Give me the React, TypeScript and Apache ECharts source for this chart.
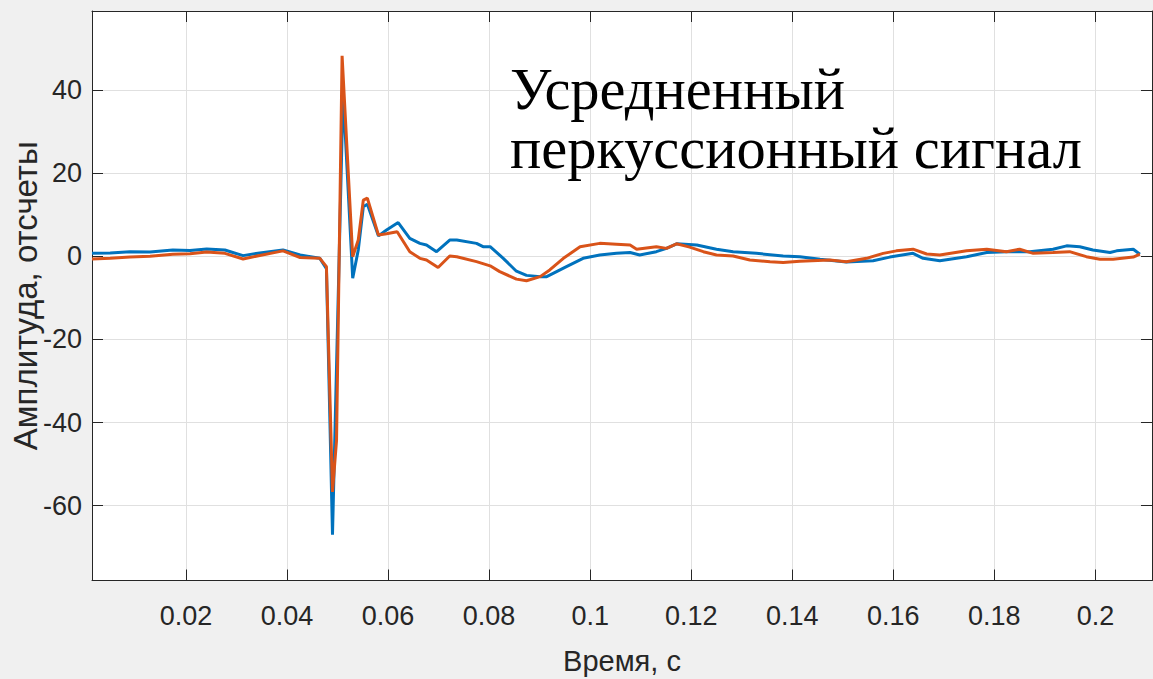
import { useEffect, useRef } from "react";
import * as echarts from "echarts";

const xTicks = [0.02, 0.04, 0.06, 0.08, 0.1, 0.12, 0.14, 0.16, 0.18, 0.2];
const yTicks = [-60, -40, -20, 0, 20, 40];

const blueTime = [
  0.0014, 0.005, 0.0089, 0.0129, 0.0174, 0.0208, 0.0241, 0.0277, 0.0313, 0.0346,
  0.0392, 0.0426, 0.0465, 0.0478, 0.049, 0.0511, 0.053, 0.0541, 0.0551, 0.0559,
  0.0581, 0.0597, 0.062, 0.0643, 0.0663, 0.0676, 0.0696, 0.0722, 0.0736, 0.0775,
  0.0788, 0.0802, 0.0828, 0.0854, 0.0874, 0.0901, 0.0914, 0.0953, 0.0986, 0.1019,
  0.1052, 0.1079, 0.1098, 0.1131, 0.1151, 0.1171, 0.1211, 0.125, 0.1283, 0.1329,
  0.1382, 0.1415, 0.1455, 0.1507, 0.156, 0.1593, 0.1639, 0.1659, 0.1692, 0.1745,
  0.1785, 0.1824, 0.187, 0.1916, 0.1943, 0.1969, 0.1995, 0.2029, 0.2042, 0.2075,
  0.2088,
];
const blueAmp = [
  0.7, 0.8, 1.1, 1.0, 1.5, 1.4, 1.75, 1.5, 0.15, 0.8,
  1.5, 0.3, -0.5, -3, -67, 39.5, -5.3, 1.5, 11.9, 12.5,
  4.9, 6.3, 8.1, 4.3, 3.1, 2.7, 1.1, 3.9, 3.9, 3.1,
  2.3, 2.3, -0.5, -3.6, -4.6, -4.9, -4.9, -2.5, -0.5, 0.3,
  0.7, 0.9, 0.3, 1.1, 1.9, 3.0, 2.7, 1.7, 1.1, 0.7,
  0.07, -0.1, -0.7, -1.4, -1.1, -0.2, 0.7, -0.5, -1.1, -0.1,
  0.9, 1.1, 1.1, 1.7, 2.5, 2.3, 1.5, 0.9, 1.3, 1.7,
  0.5,
];

const orangeTime = [
  0.0014, 0.005, 0.0089, 0.0129, 0.0174, 0.0208, 0.0241, 0.0277, 0.0313, 0.0346,
  0.0392, 0.0426, 0.0465, 0.0478, 0.049, 0.0498, 0.0509, 0.053, 0.0541, 0.0551,
  0.0559, 0.0581, 0.0597, 0.0618, 0.0643, 0.0663, 0.0676, 0.0699, 0.0722, 0.0736,
  0.0775, 0.0802, 0.0821, 0.0854, 0.0874, 0.0901, 0.092, 0.0947, 0.098, 0.1019,
  0.1052, 0.1079, 0.1092, 0.1131, 0.1151, 0.1171, 0.1197, 0.1224, 0.125, 0.1283,
  0.1316, 0.1356, 0.1382, 0.1415, 0.1474, 0.1507, 0.1547, 0.158, 0.1606, 0.1639,
  0.1666, 0.1692, 0.1745, 0.1785, 0.1824, 0.185, 0.1877, 0.1916, 0.1949, 0.1982,
  0.2009, 0.2035, 0.2075, 0.2088,
];
const orangeAmp = [
  -0.65, -0.5, -0.2, 0.0, 0.5, 0.6, 1.0, 0.7, -0.65, 0.2,
  1.3, -0.3, -0.5, -2.5, -56.7, -44.3, 48.2, -0.1, 3.9, 13.5,
  14.0, 5.1, 5.4, 5.9, 1.1, -0.5, -0.9, -2.7, 0.07, -0.1,
  -1.3, -2.3, -3.7, -5.5, -5.9, -4.9, -3.3, -0.5, 2.3, 3.1,
  2.9, 2.7, 1.7, 2.3, 1.9, 3.0, 2.2, 1.1, 0.3, 0.07,
  -0.9, -1.3, -1.5, -1.2, -0.9, -1.3, -0.5, 0.7, 1.3, 1.7,
  0.55, 0.3, 1.3, 1.7, 1.1, 1.7, 0.7, 0.9, 1.1, -0.1,
  -0.7, -0.7, -0.2, 0.5,
];

const X_MIN = 0.0014;
const X_MAX = 0.2112;
const Y_MIN = -78;
const Y_MAX = 59;

const AXIS_COLOR = "#262626";
const FONT = "'Liberation Sans', Arial, Helvetica, sans-serif";

export default function App() {
  const ref = useRef<HTMLDivElement>(null);

  useEffect(() => {
    if (!ref.current) return;
    const chart = echarts.init(ref.current, null, { renderer: "svg" });

    const blueData = blueTime.map((t, i) => [t, blueAmp[i]]);
    const orangeData = orangeTime.map((t, i) => [t, orangeAmp[i]]);

    const tick = (custom: number[]) => ({
      show: true,
      inside: true,
      length: 11,
      customValues: custom,
      lineStyle: { color: AXIS_COLOR, width: 1 },
    });

    chart.setOption({
      animation: false,
      backgroundColor: "#f0f0f0",
      grid: {
        left: 92,
        top: 11,
        right: 1,
        bottom: 98.5,
        show: true,
        backgroundColor: "#ffffff",
        borderWidth: 0,
        containLabel: false,
        outerBoundsMode: "none",
      },
      xAxis: [
        {
          type: "value",
          min: X_MIN,
          max: X_MAX,
          position: "bottom",
          name: "Время, с",
          nameLocation: "middle",
          nameGap: 66,
          nameTextStyle: { color: AXIS_COLOR, fontSize: 29, fontFamily: FONT },
          axisLine: { show: true, onZero: false, lineStyle: { color: AXIS_COLOR, width: 1 } },
          axisTick: tick(xTicks),
          axisLabel: {
            customValues: xTicks,
            color: AXIS_COLOR,
            fontSize: 27,
            fontFamily: FONT,
            margin: 22,
            formatter: (v: number) => String(+v.toFixed(3)),
          },
          splitLine: { show: true, lineStyle: { color: "#e0e0e0", width: 1 } },
        },
        {
          type: "value",
          min: X_MIN,
          max: X_MAX,
          position: "top",
          axisLine: { show: true, onZero: false, lineStyle: { color: AXIS_COLOR, width: 1 } },
          axisTick: tick(xTicks),
          axisLabel: { show: false, customValues: xTicks },
          splitLine: { show: false },
        },
      ],
      yAxis: [
        {
          type: "value",
          min: Y_MIN,
          max: Y_MAX,
          position: "left",
          name: "Амплитуда, отсчеты",
          nameLocation: "middle",
          nameGap: 50,
          nameMoveOverlap: false,
          nameRotate: 90,
          nameTextStyle: { color: AXIS_COLOR, fontSize: 33, fontFamily: FONT },
          axisLine: { show: true, onZero: false, lineStyle: { color: AXIS_COLOR, width: 1 } },
          axisTick: tick(yTicks),
          axisLabel: {
            customValues: yTicks,
            color: AXIS_COLOR,
            fontSize: 27,
            fontFamily: FONT,
            margin: 10,
          },
          splitLine: { show: true, lineStyle: { color: "#e0e0e0", width: 1 } },
        },
        {
          type: "value",
          min: Y_MIN,
          max: Y_MAX,
          position: "right",
          axisLine: { show: true, onZero: false, lineStyle: { color: AXIS_COLOR, width: 1 } },
          axisTick: tick(yTicks),
          axisLabel: { show: false, customValues: yTicks },
          splitLine: { show: false },
        },
      ],
      series: [
        {
          type: "line",
          name: "blue",
          data: blueData,
          showSymbol: false,
          symbol: "none",
          lineStyle: { color: "#0072BD", width: 3 },
          z: 2,
        },
        {
          type: "line",
          name: "orange",
          data: orangeData,
          showSymbol: false,
          symbol: "none",
          lineStyle: { color: "#D95319", width: 3 },
          z: 3,
        },
      ],
      graphic: [
        {
          type: "text",
          left: 510,
          top: 60,
          z: 10,
          style: {
            text: "Усредненный\nперкуссионный сигнал",
            font: "58.5px 'Liberation Serif', 'Times New Roman', serif",
            lineHeight: 59,
            fill: "#000000",
          },
        },
      ],
    });

    return () => chart.dispose();
  }, []);

  return (
    <div
      ref={ref}
      style={{ position: "fixed", left: 0, top: 0, width: 1153, height: 679 }}
    />
  );
}
